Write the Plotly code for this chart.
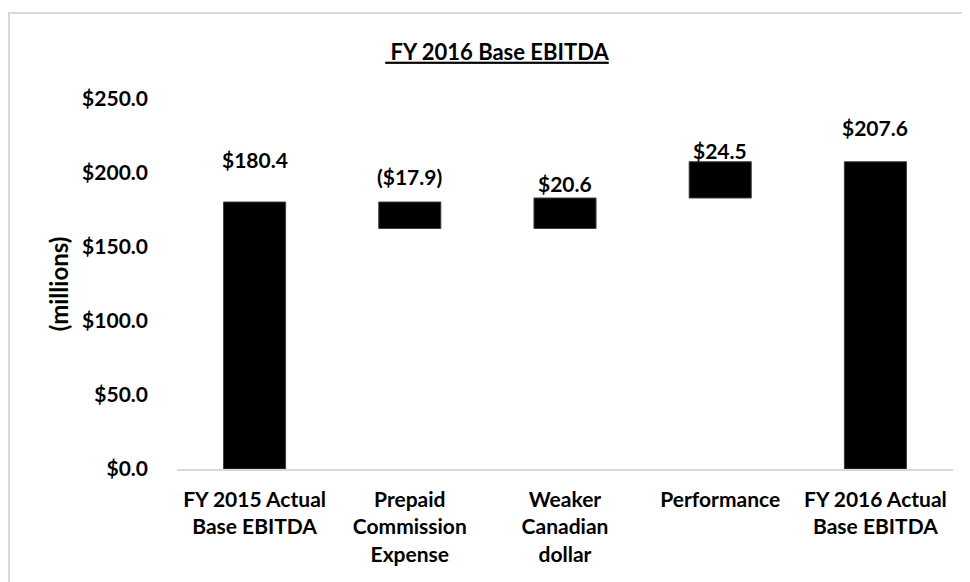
import plotly.graph_objects as go

categories = ["FY 2015 Actual<br>Base EBITDA", "Prepaid<br>Commission<br>Expense",
              "Weaker<br>Canadian<br>dollar", "Performance", "FY 2016 Actual<br>Base EBITDA"]
values = [180.4, -17.9, 20.6, 24.5, 207.6]
measures = ["absolute", "relative", "relative", "relative", "total"]
labels = ["$180.4", "($17.9)", "$20.6", "$24.5", "$207.6"]
y_ticks = [0, 50, 100, 150, 200, 250]
y_tick_labels = ["$0.0", "$50.0", "$100.0", "$150.0", "$200.0", "$250.0"]

# compute floating bar bases / heights from the waterfall values
bases, heights, tops = [], [], []
running = 0.0
for v, m in zip(values, measures):
    if m == "relative":
        start, end = running, running + v
        running = end
    else:
        start, end = 0.0, v
        running = v
    lo, hi = min(start, end), max(start, end)
    bases.append(lo)
    heights.append(hi - lo)
    tops.append(hi)

FONT = "Lato"
label_shift = [43, 26, 15, 11, 34]

# plot area geometry (figure pixels)
L, T, R, B = 169, 91, 25, 121
W, H = 970, 582
PW, PH = W - L - R, H - T - B

fig = go.Figure()
fig.add_trace(go.Bar(
    x=categories, y=heights, base=bases, width=0.4,
    marker=dict(color="black", line=dict(color="#404040", width=1)),
    hoverinfo="skip", showlegend=False,
))

for c, t, lab, s in zip(categories, tops, labels, label_shift):
    fig.add_annotation(x=c, y=t, text="<b>%s</b>" % lab, showarrow=False,
                       yanchor="middle", yshift=s,
                       font=dict(family=FONT, size=21, color="black"))

fig.update_layout(
    width=W, height=H,
    margin=dict(l=L, r=R, t=T, b=B, autoexpand=False),
    paper_bgcolor="white", plot_bgcolor="white",
    title=dict(text="<b><u> FY 2016 Base EBITDA</u></b>", x=489 / W, xref="container",
               xanchor="center", y=1 - 44 / H, yref="container", yanchor="middle",
               font=dict(family=FONT, size=22, color="black")),
    font=dict(family=FONT, size=21, color="black"),
    xaxis=dict(showgrid=False, showline=True, linecolor="#d9d9d9", linewidth=1.5,
               ticks="", tickfont=dict(family=FONT, size=21, color="black"),
               ticklabelstandoff=11,
               tickvals=categories, ticktext=["<b>%s</b>" % c for c in categories]),
    yaxis=dict(range=[0, 250], tickvals=y_ticks, ticktext=["<b>%s</b>" % t for t in y_tick_labels],
               showgrid=False, zeroline=False, showline=False, ticks="",
               tickfont=dict(family=FONT, size=21, color="black"),
               ticklabelstandoff=28,
               title=dict(text="<b>(millions)</b>", standoff=6,
                          font=dict(family=FONT, size=24, color="black"))),
)

fig.add_shape(type="rect", xref="paper", yref="paper",
              x0=(1 - L) / PW, x1=(W + 10 - L) / PW,
              y0=-0.5, y1=(PH + T - 5) / PH,
              line=dict(color="#d9d9d9", width=2), fillcolor="rgba(0,0,0,0)", layer="below")

fig.write_html("out.html")
